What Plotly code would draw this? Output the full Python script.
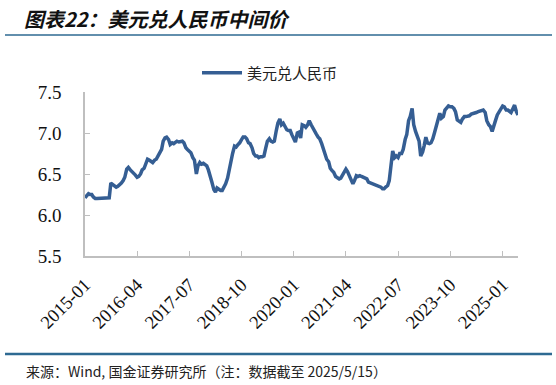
import pandas as pd
import plotly.graph_objects as go

# semi-monthly observations (1st and 15th of each month), 2015-01 .. 2025-05
usdcny = [
    # 2015
    6.21, 6.23, 6.26, 6.25, 6.25, 6.22, 6.20, 6.20, 6.20, 6.20, 6.21, 6.20,
    6.21, 6.21, 6.21, 6.39, 6.37, 6.36, 6.34, 6.35, 6.37, 6.39, 6.42, 6.46,
    # 2016
    6.56, 6.58, 6.55, 6.53, 6.52, 6.49, 6.46, 6.47, 6.50, 6.55, 6.57, 6.61,
    6.68, 6.67, 6.65, 6.64, 6.67, 6.68, 6.72, 6.76, 6.80, 6.90, 6.94, 6.95,
    # 2017
    6.92, 6.86, 6.88, 6.87, 6.89, 6.90, 6.89, 6.90, 6.90, 6.88, 6.82, 6.80,
    6.78, 6.76, 6.70, 6.67, 6.50, 6.60, 6.64, 6.62, 6.63, 6.61, 6.60, 6.55,
    # 2018
    6.48, 6.40, 6.31, 6.28, 6.33, 6.31, 6.30, 6.30, 6.34, 6.38, 6.45, 6.56,
    6.66, 6.75, 6.84, 6.83, 6.86, 6.88, 6.92, 6.95, 6.95, 6.93, 6.88, 6.87,
    # 2019
    6.82, 6.75, 6.72, 6.72, 6.70, 6.71, 6.71, 6.72, 6.82, 6.90, 6.93, 6.90,
    6.89, 6.90, 7.03, 7.12, 7.17, 7.10, 7.12, 7.08, 7.04, 7.03, 7.03, 6.98,
    # 2020
    6.94, 6.89, 7.00, 7.01, 6.94, 7.10, 7.09, 7.07, 7.10, 7.15, 7.10, 7.06,
    7.02, 6.99, 6.95, 6.93, 6.87, 6.80, 6.72, 6.68, 6.65, 6.57, 6.54, 6.52,
    # 2021
    6.47, 6.46, 6.44, 6.45, 6.48, 6.51, 6.56, 6.53, 6.47, 6.43, 6.38, 6.42,
    6.48, 6.47, 6.48, 6.47, 6.46, 6.45, 6.44, 6.40, 6.39, 6.38, 6.37, 6.37,
    # 2022
    6.36, 6.35, 6.34, 6.32, 6.32, 6.34, 6.36, 6.42, 6.65, 6.78, 6.70, 6.72,
    6.70, 6.75, 6.75, 6.80, 6.92, 6.98, 7.15, 7.20, 7.30, 7.10, 7.02, 6.97,
    # 2023
    6.90, 6.72, 6.77, 6.85, 6.95, 6.88, 6.87, 6.88, 6.93, 7.00, 7.10, 7.15,
    7.24, 7.18, 7.20, 7.28, 7.30, 7.33, 7.32, 7.32, 7.30, 7.26, 7.16, 7.15,
    # 2024
    7.13, 7.17, 7.20, 7.20, 7.20, 7.21, 7.23, 7.24, 7.24, 7.25, 7.26, 7.27,
    7.27, 7.28, 7.25, 7.15, 7.10, 7.08, 7.02, 7.10, 7.16, 7.22, 7.26, 7.30,
    # 2025
    7.33, 7.32, 7.28, 7.28, 7.27, 7.25, 7.30, 7.34, 7.26, 7.22,
]
dates = pd.date_range("2015-01-01", "2025-05-15", freq="SMS")[:len(usdcny)]

tick_dates = ["2015-01-01", "2016-04-01", "2017-07-01", "2018-10-01", "2020-01-01",
              "2021-04-01", "2022-07-01", "2023-10-01", "2025-01-01"]
tick_labels = ["2015-01", "2016-04", "2017-07", "2018-10", "2020-01",
               "2021-04", "2022-07", "2023-10", "2025-01"]
y_ticks = [5.5, 6.0, 6.5, 7.0, 7.5]

series_name = "美元兑人民币"
title_text = "图表22：美元兑人民币中间价"
source_text = "来源：Wind, 国金证券研究所（注：数据截至 2025/5/15）"

fig = go.Figure()
fig.add_trace(go.Scatter(
    x=dates, y=usdcny, mode="lines", name=series_name,
    line=dict(color="#355E93", width=3.5),
))

L, T, R, B = 85, 92, 38, 129
PW, PH = 556 - L - R, 385 - T - B


def px(x):
    return (x - L) / PW


def py(y):
    return (385 - B - y) / PH


axis_col = "#BFBFBF"
fig.update_layout(
    width=556, height=385,
    margin=dict(l=L, r=R, t=T, b=B),
    paper_bgcolor="white", plot_bgcolor="white",
    showlegend=True,
    legend=dict(
        orientation="h", x=px(197), y=py(73), xanchor="left", yanchor="middle",
        font=dict(family="Noto Sans CJK SC", size=15, color="#222"),
        itemwidth=40, bgcolor="rgba(0,0,0,0)",
    ),
    xaxis=dict(
        type="date",
        range=["2015-01-01", "2025-05-15"],
        tickvals=tick_dates, ticktext=tick_labels,
        tickangle=-45,
        showgrid=False, zeroline=False,
        showline=True, linecolor=axis_col, linewidth=1.5,
        ticks="inside", ticklen=5, tickcolor=axis_col,
        tickfont=dict(family="Liberation Serif", size=18.5, color="#111"),
        ticklabelstandoff=9,
        automargin=False,
    ),
    yaxis=dict(
        range=[5.5, 7.5],
        tickvals=y_ticks, tickformat=".1f",
        showgrid=False, zeroline=False,
        showline=True, linecolor=axis_col, linewidth=1.5,
        ticks="inside", ticklen=5, tickcolor=axis_col,
        tickfont=dict(family="Liberation Serif", size=19, color="#111"),
        ticklabelstandoff=18,
        automargin=False,
    ),
    shapes=[
        dict(type="line", xref="paper", yref="paper",
             x0=px(5), x1=px(552), y0=py(35), y1=py(35),
             line=dict(color="#2E6A92", width=1.5)),
        dict(type="line", xref="paper", yref="paper",
             x0=px(5), x1=px(552), y0=py(354), y1=py(354),
             line=dict(color="#2E6A92", width=2.5)),
    ],
    annotations=[
        dict(text="<b><i>" + title_text + "</i></b>", xref="paper", yref="paper",
             x=px(22), y=py(18), xanchor="left", yanchor="middle",
             showarrow=False,
             font=dict(family="Noto Sans CJK SC", size=20, color="#111")),
        dict(text=source_text, xref="paper", yref="paper",
             x=px(24), y=py(371), xanchor="left", yanchor="middle",
             showarrow=False,
             font=dict(family="Noto Sans CJK SC", size=14, color="#222")),
    ],
)

fig.write_html("out.html", config={"displayModeBar": False},
               post_script="document.body.style.margin='0';")
